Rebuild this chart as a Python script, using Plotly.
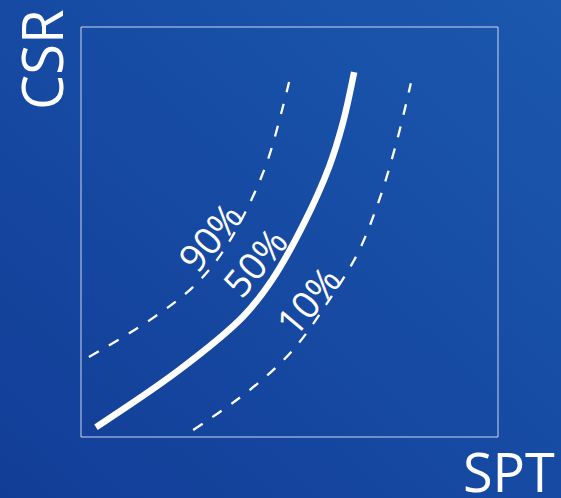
import plotly.graph_objects as go

# Curves (SPT on x, CSR on y), percent probability of liquefaction
spt_50 = [3.6, 23.5, 38.8, 45.8, 53.5, 59.5, 62.8, 65.5]
csr_50 = [2.4, 16.3, 29.3, 38.3, 52.2, 65.9, 76.6, 89.0]

spt_90 = [1.9, 16.5, 26.9, 33.8, 40.5, 44.8, 48.4, 49.9]
csr_90 = [19.5, 28.5, 36.6, 44.9, 57.1, 67.6, 80.5, 86.6]

spt_10 = [26.9, 40.5, 50.8, 59.5, 66.4, 71.5, 75.8, 79.1]
csr_10 = [1.7, 11.5, 21.2, 33.4, 44.9, 57.8, 72.4, 86.3]

labels = ["90%", "50%", "10%"]
label_x = [30.9, 41.5, 54.4]
label_y = [49.0, 42.7, 33.4]

W, H = 561, 498
ML, MR, MT, MB = 81, 63, 27, 61
PW, PH = W - ML - MR, H - MT - MB

FONT = "Open Sans"

fig = go.Figure()
fig.add_trace(go.Scatter(x=spt_90, y=csr_90, mode="lines",
                         line=dict(color="white", width=2.3, dash="11px,12px", shape="spline"),
                         hoverinfo="skip"))
fig.add_trace(go.Scatter(x=spt_10, y=csr_10, mode="lines",
                         line=dict(color="white", width=2.3, dash="11px,12px", shape="spline"),
                         hoverinfo="skip"))
fig.add_trace(go.Scatter(x=spt_50, y=csr_50, mode="lines",
                         line=dict(color="white", width=6.5, shape="spline"),
                         hoverinfo="skip"))

for t, x, y in zip(labels, label_x, label_y):
    fig.add_annotation(x=x, y=y, xref="x", yref="y", text=t, showarrow=False,
                       xanchor="center", yanchor="middle",
                       textangle=-50, font=dict(family=FONT, size=38, color="white"))

fig.add_annotation(x=(41 - ML) / PW, y=(H - MB - 60) / PH, xref="paper", yref="paper",
                   xanchor="center", yanchor="middle",
                   text="CSR", showarrow=False, textangle=-90,
                   font=dict(family=FONT, size=56, color="white"))
fig.add_annotation(x=(509 - ML) / PW, y=(H - MB - 471) / PH, xref="paper", yref="paper",
                   xanchor="center", yanchor="middle",
                   text="SPT", showarrow=False,
                   font=dict(family=FONT, size=54, color="white"))

# frame
fig.add_shape(type="rect", xref="paper", yref="paper", x0=0, y0=0, x1=1, y1=1,
              line=dict(color="rgba(235,240,250,0.85)", width=1))

svg = ("<svg xmlns='http://www.w3.org/2000/svg' width='561' height='498' preserveAspectRatio='none'>"
       "<defs><linearGradient id='g' x1='0' y1='1' x2='1' y2='0'>"
       "<stop offset='0' stop-color='%23123d97'/><stop offset='1' stop-color='%231b58ae'/>"
       "</linearGradient></defs><rect width='561' height='498' fill='url(%23g)'/></svg>")
fig.add_layout_image(source="data:image/svg+xml;utf8," + svg, xref="paper", yref="paper",
                     x=-ML / PW, y=1 + MT / PH, sizex=W / PW, sizey=H / PH,
                     sizing="stretch", xanchor="left", yanchor="top", layer="below")

fig.update_layout(width=W, height=H, margin=dict(l=ML, r=MR, t=MT, b=MB),
                  paper_bgcolor="#164aa3", plot_bgcolor="rgba(0,0,0,0)",
                  showlegend=False,
                  xaxis=dict(range=[0, 100], visible=False, fixedrange=True),
                  yaxis=dict(range=[0, 100], visible=False, fixedrange=True))

fig.write_html("out.html")
